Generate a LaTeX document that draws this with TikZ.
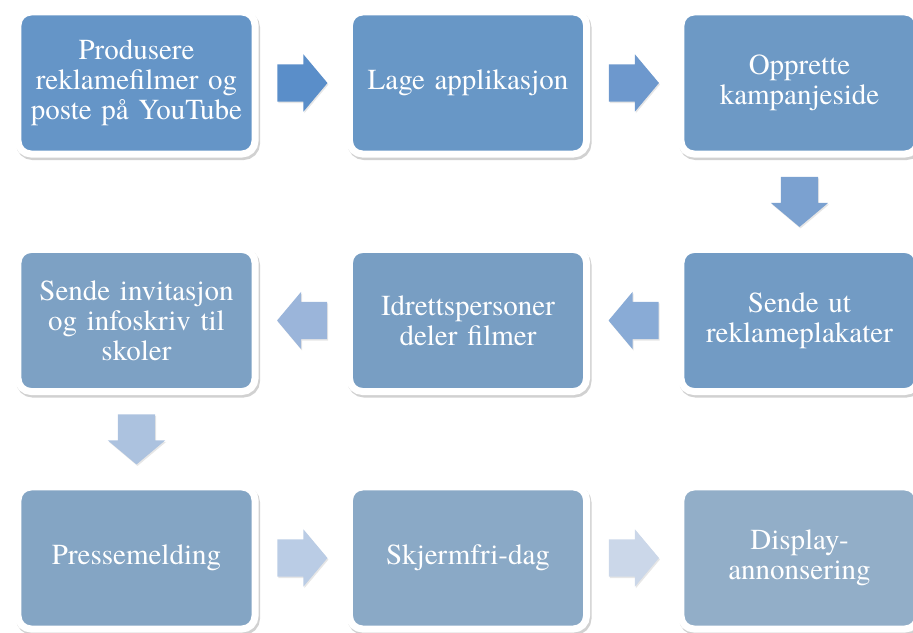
\documentclass[tikz,border=0pt]{standalone}
\usepackage{fontspec}
\setmainfont{TeX Gyre Termes}
\newfontfamily\boxfont{TeX Gyre Termes}
\usetikzlibrary{matrix,calc,shapes.arrows,shadows}

\definecolor{box1}{HTML}{6595C7}
\definecolor{box2}{HTML}{6897C6}
\definecolor{box3}{HTML}{6D99C5}
\definecolor{box4}{HTML}{729BC4}
\definecolor{box5}{HTML}{789EC3}
\definecolor{box6}{HTML}{7DA1C4}
\definecolor{box7}{HTML}{84A5C4}
\definecolor{box8}{HTML}{8AA9C6}
\definecolor{box9}{HTML}{92AEC8}
\definecolor{arr1}{HTML}{5A8EC9}
\definecolor{arr2}{HTML}{6D98CD}
\definecolor{arr3}{HTML}{7BA1D0}
\definecolor{arr4}{HTML}{89ABD6}
\definecolor{arr5}{HTML}{9BB5DA}
\definecolor{arr6}{HTML}{ACC2DF}
\definecolor{arr7}{HTML}{BACCE5}
\definecolor{arr8}{HTML}{CBD7E9}

\begin{document}
\begin{tikzpicture}[
	stepbox/.style={rectangle, rounded corners=13pt, draw=white, line width=7pt,
		text=white, align=center, text width=225pt, inner sep=0pt, anchor=center,
		minimum width=237pt, minimum height=142pt,
		font=\boxfont\fontsize{29}{30}\selectfont,
		drop shadow={opacity=0.3, fill=black!60, draw=black!60, line width=7pt,
			shadow xshift=1.5pt, shadow yshift=-2.5pt}},
	flowarrow/.style={single arrow, draw=none, inner xsep=0pt, inner ysep=18.5pt,
		minimum height=50pt, anchor=tail,
		single arrow head extend=10pt, single arrow tip angle=100,
		drop shadow={opacity=0.2, shadow xshift=1pt, shadow yshift=-1.5pt}}]
	\useasboundingbox (0,0) rectangle (913pt,632pt);
	\matrix (m) [matrix of nodes, nodes={stepbox}, row sep=88.5pt, column sep=87.5pt] at (468pt,311.5pt)
	{
		|[fill=box1]| {Produsere\\reklamefilmer og\\poste på YouTube} & |[fill=box2]| {Lage applikasjon} & |[fill=box3]| {Opprette\\kampanjeside} \\
		|[fill=box6]| {Sende invitasjon\\og infoskriv til\\skoler} & |[fill=box5]| {Idrettspersoner\\deler filmer} & |[fill=box4]| {Sende ut\\reklameplakater} \\
		|[fill=box7]| {Pressemelding} & |[fill=box8]| {Skjermfri-dag} & |[fill=box9]| {Display-\\annonsering} \\};
	
	\node[flowarrow, fill=arr1] (a1) at ($(m-1-1.east)!0.5!(m-1-2.west)+(-25pt,0)$) {};
	\node[flowarrow, fill=arr2] (a2) at ($(m-1-2.east)!0.5!(m-1-3.west)+(-25pt,0)$) {};
	\node[flowarrow, fill=arr3, rotate=-90] (a3) at ($(m-1-3.south)!0.5!(m-2-3.north)+(0,25pt)$) {};
	\node[flowarrow, fill=arr4, rotate=180] (a4) at ($(m-2-3.west)!0.5!(m-2-2.east)+(25pt,0)$) {};
	\node[flowarrow, fill=arr5, rotate=180] (a5) at ($(m-2-2.west)!0.5!(m-2-1.east)+(25pt,0)$) {};
	\node[flowarrow, fill=arr6, rotate=-90] (a6) at ($(m-2-1.south)!0.5!(m-3-1.north)+(0,25pt)$) {};
	\node[flowarrow, fill=arr7] (a7) at ($(m-3-1.east)!0.5!(m-3-2.west)+(-25pt,0)$) {};
	\node[flowarrow, fill=arr8] (a8) at ($(m-3-2.east)!0.5!(m-3-3.west)+(-25pt,0)$) {};
	
\end{tikzpicture}
\end{document}
